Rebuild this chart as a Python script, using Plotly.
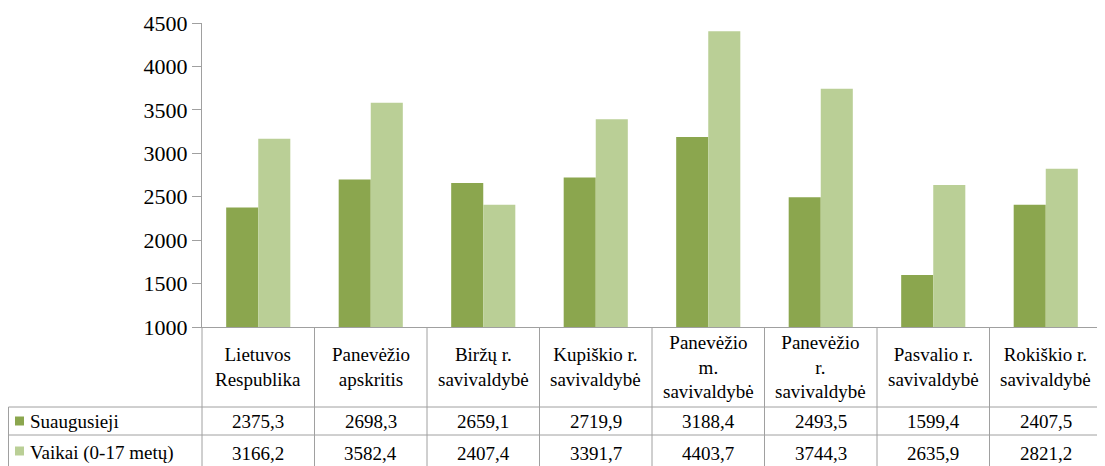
import plotly.graph_objects as go

categories = ["Lietuvos<br>Respublika", "Panevėžio<br>apskritis", "Biržų r.<br>savivaldybė",
              "Kupiškio r.<br>savivaldybė", "Panevėžio<br>m.<br>savivaldybė", "Panevėžio<br>r.<br>savivaldybė",
              "Pasvalio r.<br>savivaldybė", "Rokiškio r.<br>savivaldybė"]
series_names = ["Suaugusieji", "Vaikai (0-17 metų)"]
adults = [2375.3, 2698.3, 2659.1, 2719.9, 3188.4, 2493.5, 1599.4, 2407.5]
children = [3166.2, 3582.4, 2407.4, 3391.7, 4403.7, 3744.3, 2635.9, 2821.2]
colors = ["#8BA64E", "#BACF96"]
yticks = [1000, 1500, 2000, 2500, 3000, 3500, 4000, 4500]

# page body has an 8px margin; work in screen pixels and shift
O = 8
W, H = 1105 - O, 466 - O
L, R, T, B = 202 - O, 3, 23 - O, 466 - 327
PW = W - L - R
PH = H - T - B
FONT = "Liberation Serif"
LINE = "#A0A0A0"

def px(x):
    return (x - O - L) / PW

def py(y):
    return (H - B - (y - O)) / PH

n = len(categories)
xs = list(range(n))

fig = go.Figure()
for name, vals, c in zip(series_names, [adults, children], colors):
    fig.add_trace(go.Bar(x=xs, y=vals, name=name, marker=dict(color=c, line=dict(width=0)),
                         showlegend=False))

shapes = []
for yy in [407, 435]:
    shapes.append(dict(type="line", xref="paper", yref="paper", x0=px(8.5), x1=1.0, y0=py(yy), y1=py(yy),
                       line=dict(color=LINE, width=1)))
for i in range(n + 1):
    xp = i / n
    shapes.append(dict(type="line", xref="paper", yref="paper", x0=xp, x1=xp, y0=py(327), y1=py(470),
                       line=dict(color=LINE, width=1)))
shapes.append(dict(type="line", xref="paper", yref="paper", x0=px(8.5), x1=px(8.5), y0=py(407), y1=py(470),
                   line=dict(color=LINE, width=1)))
for c, yc in zip(colors, [421, 451]):
    shapes.append(dict(type="rect", xref="paper", yref="paper", x0=px(15), x1=px(24), y0=py(yc + 4.5),
                       y1=py(yc - 4.5), fillcolor=c, line=dict(width=0)))

annotations = []
for i, cat in enumerate(categories):
    annotations.append(dict(x=(i + 0.5) / n, y=py(367), xref="paper", yref="paper", text=cat,
                            showarrow=False, xanchor="center", yanchor="middle", align="center",
                            font=dict(family=FONT, size=19, color="#000")))
for name, vals, yc in zip(series_names, [adults, children], [421, 453]):
    annotations.append(dict(x=px(28), y=py(yc), xref="paper", yref="paper", text=name, showarrow=False,
                            xanchor="left", yanchor="middle", font=dict(family=FONT, size=19, color="#000")))
    for i, v in enumerate(vals):
        annotations.append(dict(x=(i + 0.5) / n, y=py(yc), xref="paper", yref="paper",
                                text=f"{v:.1f}".replace(".", ","), showarrow=False,
                                xanchor="center", yanchor="middle",
                                font=dict(family=FONT, size=19, color="#000")))

fig.update_layout(
    width=W, height=H,
    margin=dict(l=L, r=R, t=T, b=B, pad=0),
    paper_bgcolor="white", plot_bgcolor="white",
    barmode="group", bargap=0.43, bargroupgap=0,
    shapes=shapes, annotations=annotations,
    xaxis=dict(range=[-0.5, n - 0.5], showticklabels=False, ticks="", showgrid=False, zeroline=False,
               showline=True, linecolor=LINE, linewidth=1),
    yaxis=dict(range=[1000, 4500], tickvals=yticks, ticks="outside", ticklen=9, tickcolor=LINE,
               showgrid=False, zeroline=False, showline=True, linecolor=LINE, linewidth=1,
               tickfont=dict(family=FONT, size=22, color="#000"), ticklabelstandoff=0),
)

fig.write_html("out.html")
